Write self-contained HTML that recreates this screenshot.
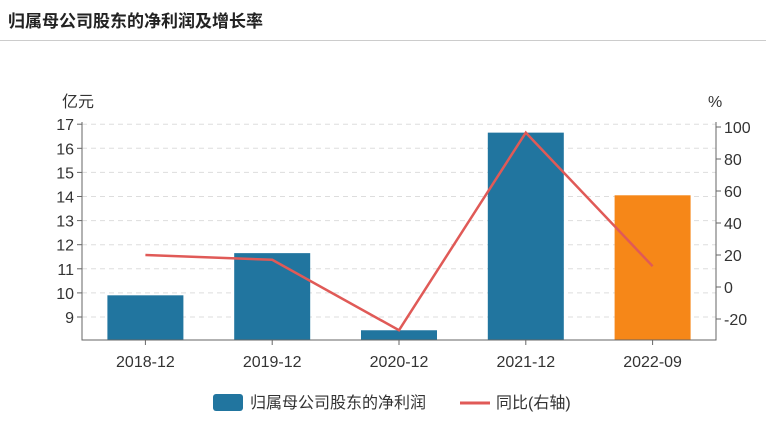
<!DOCTYPE html>
<html><head><meta charset="utf-8">
<style>
body{margin:0;background:#fff;font-family:"Liberation Sans","Noto Sans CJK SC",sans-serif;}
#wrap{position:relative;width:766px;height:422px;overflow:hidden;}
#title{position:absolute;left:8px;top:7px;font-size:17px;font-weight:bold;color:#222;}
#sep{position:absolute;left:0;top:40px;width:766px;height:1px;background:#ccc;}
svg text{font-family:"Liberation Sans","Noto Sans CJK SC",sans-serif;fill:#333;}
</style></head><body>
<div id="wrap">
<div id="title">归属母公司股东的净利润及增长率</div>
<div id="sep"></div>
<svg id="chart" width="766" height="422" style="position:absolute;left:0;top:0"></svg>
</div>
<script>
const categories=["2018-12","2019-12","2020-12","2021-12","2022-09"];
const profitValues=[9.9,11.65,8.45,16.65,14.05];
const growthValues=[20,17,-27,96.5,13];
const leftTicks=[9,10,11,12,13,14,15,16,17];
const rightTicks=[-20,0,20,40,60,80,100];
const barColors=["#21759f","#21759f","#21759f","#21759f","#f68718"];

const NS="http://www.w3.org/2000/svg";
const svg=document.getElementById('chart');
const X0=82,X1=716,YB=340,YT=122;
function yL(v){return 317-(v-9)*24.1;}
function yR(p){return 287-p*1.6;}
const band=(X1-X0)/categories.length;
function xC(i){return X0+band*(i+0.5);}
function mk(tag,attrs){const e=document.createElementNS(NS,tag);for(const k in attrs)e.setAttribute(k,attrs[k]);svg.appendChild(e);return e;}

leftTicks.forEach(v=>{
  const g=mk('line',{x1:X0,x2:X1,y1:yL(v),y2:yL(v),stroke:'#ddd','stroke-dasharray':'5,4'});
  
  
  const t=mk('line',{x1:X0-5,x2:X0,y1:yL(v),y2:yL(v),stroke:'#666'});
  
  
  const l=mk('text',{x:X0-8,y:yL(v)+6,'text-anchor':'end','font-size':'16'});
  l.textContent=v;
  
  
});
rightTicks.forEach(v=>{
  const t=mk('line',{x1:X1,x2:X1+5,y1:yR(v),y2:yR(v),stroke:'#666'});
  
  
  const l=mk('text',{x:X1+8,y:yR(v)+6,'text-anchor':'start','font-size':'16'});
  l.textContent=v;
  
  
});
categories.forEach((c,i)=>{
  const h=yL(profitValues[i]);
  const b=mk('rect',{x:xC(i)-38,y:h,width:76,height:YB-h,fill:barColors[i]});
  
  
  const t=mk('line',{x1:xC(i),x2:xC(i),y1:YB,y2:YB+5,stroke:'#666'});
  
  
  const l=mk('text',{x:xC(i),y:YB+27,'text-anchor':'middle','font-size':'16'});
  l.textContent=c;
  
  
});
const ax=mk('path',{d:`M${X0},${YT}V${YB}H${X1}V${YT}`,fill:'none',stroke:'#666'});


const pl=mk('polyline',{points:growthValues.map((p,i)=>xC(i)+','+yR(p)).join(' '),fill:'none',stroke:'#e05a57','stroke-width':'2.5'});


const u1=mk('text',{x:62,y:107,'font-size':'16'});u1.textContent='亿元';


const u2=mk('text',{x:708,y:107,'font-size':'16'});u2.textContent='%';


const lg1=mk('rect',{x:213,y:394,width:30,height:17,rx:3,fill:'#21759f'});


const lt1=mk('text',{x:250,y:408,'font-size':'16'});lt1.textContent='归属母公司股东的净利润';


const lg2=mk('line',{x1:460,x2:490,y1:403,y2:403,stroke:'#e05a57','stroke-width':'3'});


const lt2=mk('text',{x:496,y:408,'font-size':'16'});lt2.textContent='同比(右轴)';


</script>
</body></html>
